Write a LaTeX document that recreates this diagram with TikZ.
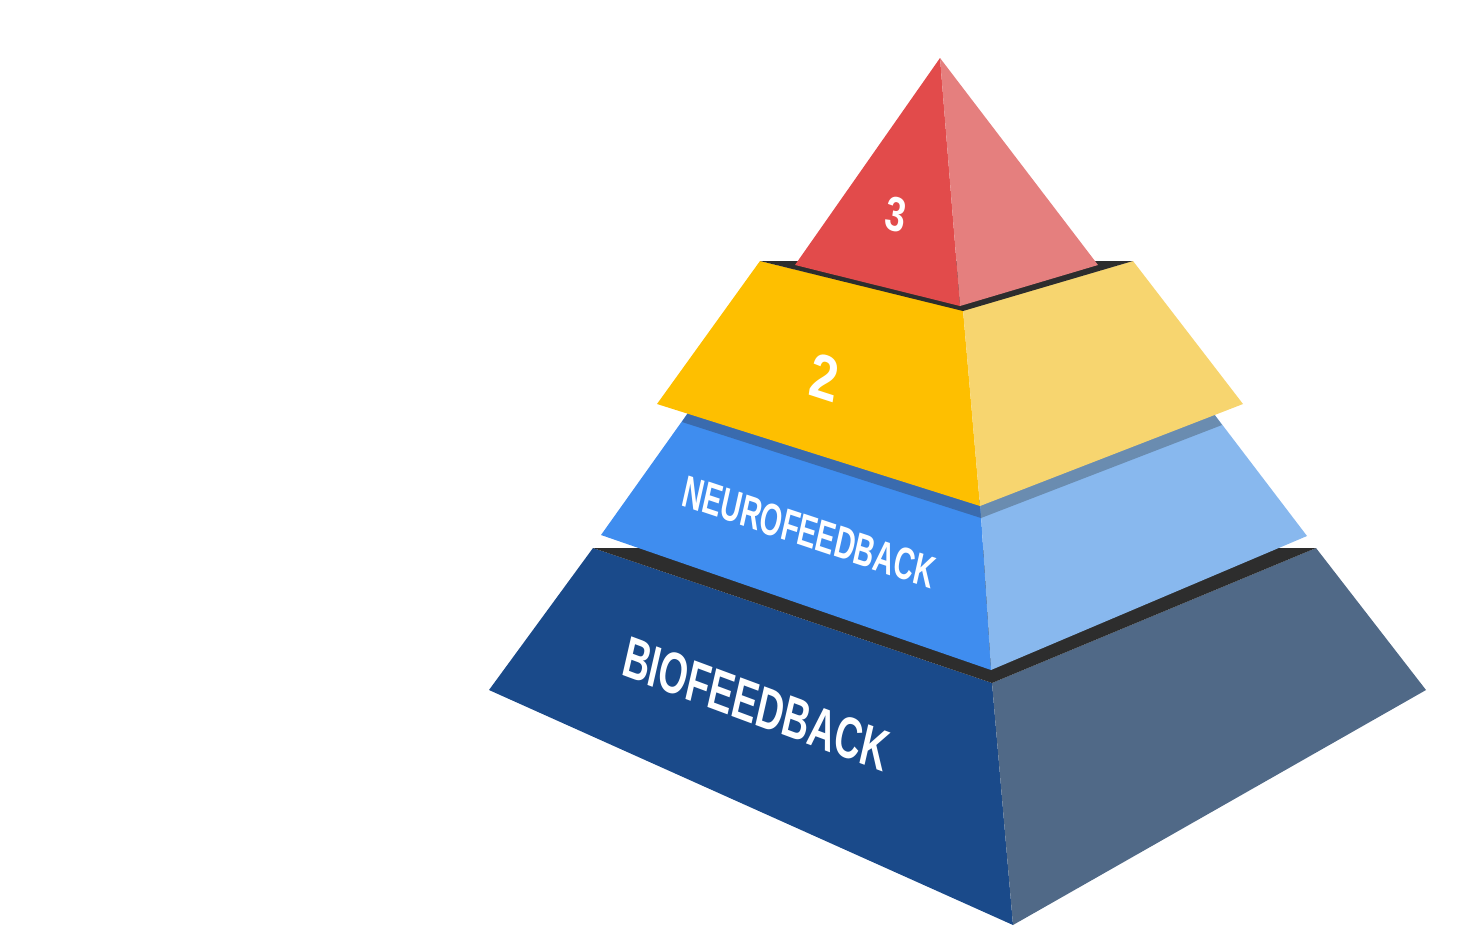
\documentclass[tikz,border=0pt]{standalone}
\usepackage{fontspec}
\setmainfont{Liberation Sans}
\usepackage{tikz}

\definecolor{redL}{HTML}{E24B4B}
\definecolor{redR}{HTML}{E57F7E}
\definecolor{yelL}{HTML}{FEBF00}
\definecolor{yelR}{HTML}{F7D56F}
\definecolor{bluL}{HTML}{3F8DEF}
\definecolor{bluR}{HTML}{88B8EE}
\definecolor{shdL}{HTML}{3A6BAE}
\definecolor{shdR}{HTML}{6A8CB0}
\definecolor{navL}{HTML}{1A4A8A}
\definecolor{navR}{HTML}{506987}
\definecolor{topdark}{HTML}{2D2D2D}

\tikzset{lbl/.style={text=white,inner sep=0pt}}

\begin{document}
\begin{tikzpicture}[x=0.5pt,y=-0.5pt]
       \useasboundingbox (0,0) rectangle (1461,942);
       \fill[navL] (593,548) -- (992,683) -- (1013,925) -- (489,690) -- cycle;
       \fill[navR] (992,683) -- (1316,548) -- (1426,690) -- (1013,925) -- cycle;
       \fill[topdark] (593,548) -- (1316,548) -- (992,683) -- cycle;
       \fill[bluL] (690,410) -- (980,500) -- (991,670) -- (601,535) -- cycle;
       \fill[bluR] (980,500) -- (1211,410) -- (1307,536) -- (991,670) -- cycle;
       \fill[shdL] (690,410) -- (980,500) -- (981,518) -- (682,422) -- cycle;
       \fill[shdR] (980,500) -- (1211,410) -- (1222,425) -- (981,518) -- cycle;
       \fill[yelL] (760,261) -- (963,310) -- (980,506) -- (657,404) -- cycle;
       \fill[yelR] (963,310) -- (1133,261) -- (1243,404) -- (980,506) -- cycle;
       \fill[topdark] (760,261) -- (1133,261) -- (963,311) -- cycle;
       \fill[redL] (940,58) -- (960,306) -- (795,265) -- cycle;
       \fill[redR] (940,58) -- (1098,265) -- (960,306) -- cycle;
       \node[lbl, font=\bfseries\fontsize{24}{24}\selectfont, cm={0.75,-0.19,0.15,1,(0,0)}] (three) at (896,215) {3};
       \node[lbl, font=\bfseries\fontsize{31}{31}\selectfont, cm={0.8,-0.26,0.15,1,(0,0)}] (two) at (825,377) {2};
       \node[lbl, font=\bfseries\fontsize{17.5}{17.5}\selectfont, cm={0.78,-0.26,0.28,1.25,(0,0)}] (neuro) at (809,532) {NEUROFEEDBACK};
       \node[lbl, font=\bfseries\fontsize{23}{23}\selectfont, cm={0.78,-0.29,0.28,1.22,(0,0)}] (bio) at (756,704) {BIOFEEDBACK};
\end{tikzpicture}
\end{document}
